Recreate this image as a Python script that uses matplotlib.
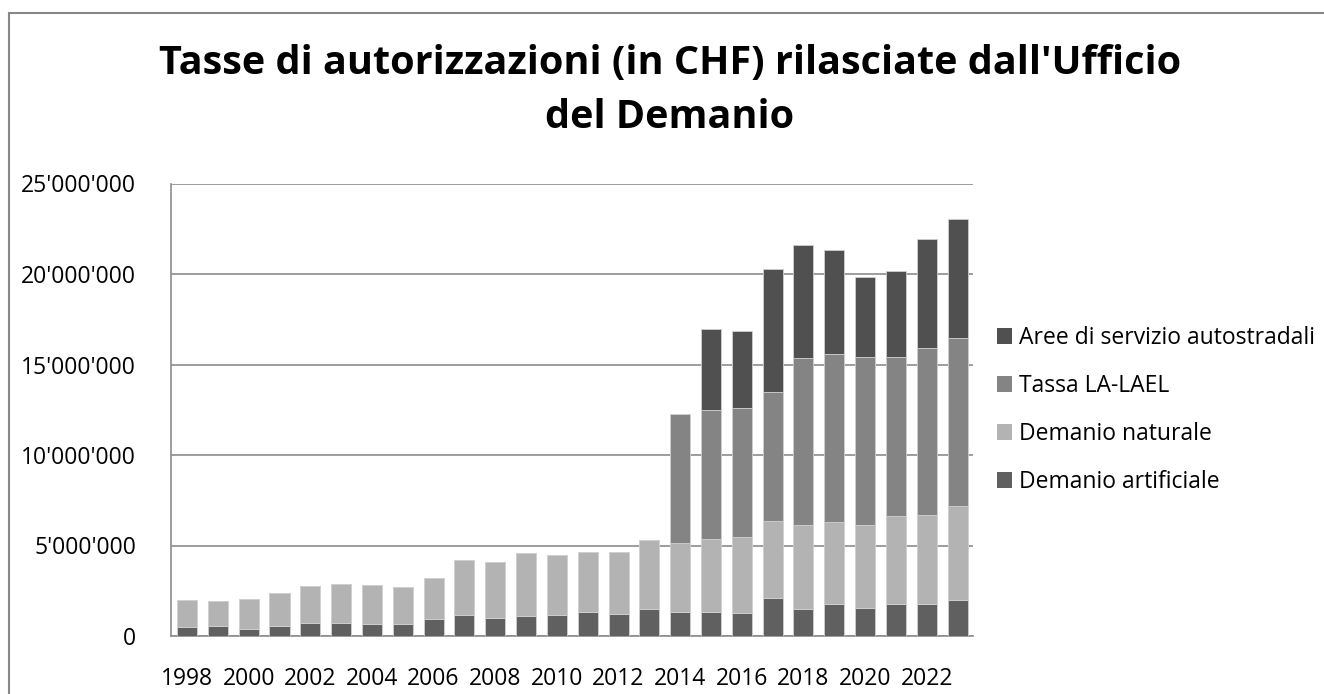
import matplotlib
matplotlib.use("Agg")
import matplotlib.pyplot as plt
from matplotlib.patches import Rectangle
from matplotlib.ticker import FuncFormatter
import numpy as np

plt.rcParams["font.family"] = ["Open Sans", "DejaVu Sans"]

years = list(range(1998, 2024))
year_labels = [str(y) if y % 2 == 0 else "" for y in years]

# values in CHF
demanio_artificiale = [
    510000, 530000, 400000, 570000, 740000, 720000, 660000, 660000, 920000,
    1160000, 980000, 1100000, 1160000, 1330000, 1220000, 1510000, 1330000,
    1330000, 1270000, 2120000, 1510000, 1750000, 1560000, 1770000, 1770000,
    1990000,
]
demanio_naturale = [
    1480000, 1390000, 1630000, 1790000, 2000000, 2150000, 2160000, 2050000,
    2280000, 3020000, 3090000, 3500000, 3320000, 3330000, 3440000, 3780000,
    3810000, 4030000, 4180000, 4230000, 4620000, 4550000, 4570000, 4880000,
    4920000, 5190000,
]
tassa_la_lael = [
    0, 0, 0, 0, 0, 0, 0, 0, 0, 0, 0, 0, 0, 0, 0, 0,
    7110000, 7130000, 7150000, 7150000, 9230000, 9280000, 9280000, 8760000,
    9220000, 9300000,
]
aree_servizio = [
    0, 0, 0, 0, 0, 0, 0, 0, 0, 0, 0, 0, 0, 0, 0, 0, 0,
    4450000, 4270000, 6780000, 6240000, 5760000, 4420000, 4760000, 6040000,
    6560000,
]

series = [
    ("Demanio artificiale", demanio_artificiale, "#606060"),
    ("Demanio naturale", demanio_naturale, "#b3b3b3"),
    ("Tassa LA-LAEL", tassa_la_lael, "#848484"),
    ("Aree di servizio autostradali", aree_servizio, "#505050"),
]

W, H = 1324, 694
fig = plt.figure(figsize=(W / 100, H / 100), dpi=100)
ax = fig.add_axes([171 / W, 1 - 636 / H, (973 - 171) / W, (636 - 183.5) / H])

x = np.arange(len(years))
bottom = np.zeros(len(years))
handles = []
for name, vals, col in series:
    vals = np.array(vals, dtype=float)
    b = ax.bar(x, vals, 0.65, bottom=bottom, color=col, edgecolor="#cfcfcf",
               linewidth=0.6, label=name, zorder=3)
    handles.append(b)
    bottom += vals

grid_col = "#8c8c8c"
ax.set_xlim(-0.52, 25.5)
ax.set_ylim(0, 25_000_000)
ax.set_yticks(np.arange(0, 25_000_001, 5_000_000))
ax.yaxis.set_major_formatter(FuncFormatter(lambda v, p: f"{int(v):,}".replace(",", "'")))
ax.set_xticks(x)
ax.set_xticklabels(year_labels)
ax.tick_params(axis="both", length=0, labelsize=16.5, colors="black")
ax.tick_params(axis="y", pad=25)
ax.tick_params(axis="x", pad=22)
ax.yaxis.grid(True, color=grid_col, linewidth=1.2, zorder=0)
for s in ("top", "right"):
    ax.spines[s].set_visible(False)
for s in ("left", "bottom"):
    ax.spines[s].set_color(grid_col)
    ax.spines[s].set_linewidth(1.2)

leg = fig.legend(handles[::-1], [s[0] for s in series][::-1],
                 loc="center left", bbox_to_anchor=(997 / W, 1 - 410 / H),
                 frameon=False, fontsize=16.5, handlelength=0.65,
                 handleheight=0.65, handletextpad=0.3, labelspacing=1.05,
                 borderpad=0, borderaxespad=0)
for h in leg.legend_handles:
    h.set_edgecolor("none")

fig.text(670 / W, 1 - 91 / H,
         "Tasse di autorizzazioni (in CHF) rilasciate dall'Ufficio\ndel Demanio",
         ha="center", va="center", fontsize=28.5, fontweight="bold",
         linespacing=1.5)

fig.add_artist(Rectangle((9 / W, -0.2), 1.2, 1.2 - 13 / H,
                         transform=fig.transFigure, fill=False,
                         edgecolor="#878787", linewidth=1.5))

fig.savefig("out.png", dpi=100)
